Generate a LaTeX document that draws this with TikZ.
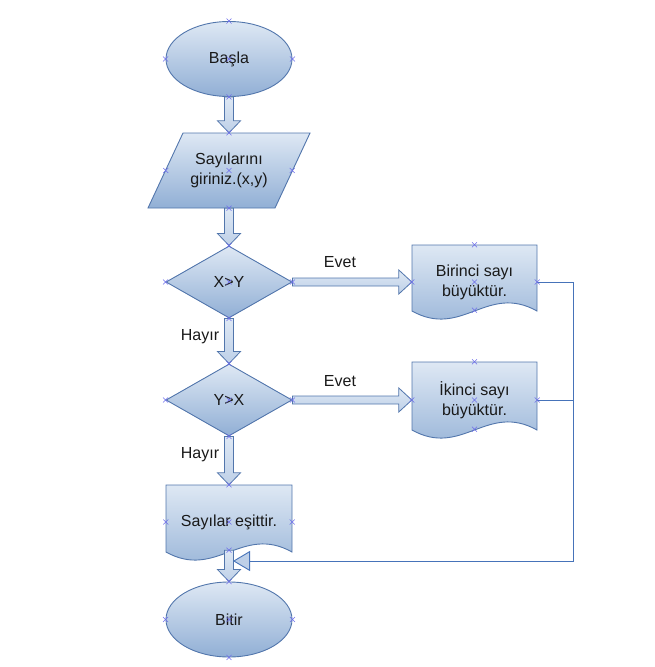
\documentclass[tikz,border=0pt]{standalone}
\usepackage{fontspec}
\setmainfont{Liberation Sans}
\usetikzlibrary{shapes.geometric,arrows.meta,calc}
\definecolor{fillTop}{RGB}{222,232,244}
\definecolor{fillBot}{RGB}{145,175,213}
\definecolor{edge}{RGB}{82,118,172}
\definecolor{conncol}{RGB}{70,115,185}
\definecolor{mkcol}{RGB}{110,110,235}
\definecolor{txt}{RGB}{25,25,25}
\definecolor{arrfill}{RGB}{190,208,232}
\tikzset{
  txtfont/.style={text=txt, font=\fontsize{16}{20}\selectfont, align=center},
  shapefill/.style={draw=edge, line width=0.9pt, top color=fillTop, bottom color=fillBot},
  term/.style={shapefill, txtfont, ellipse, minimum width=126pt, minimum height=75pt, inner sep=0pt},
  decision/.style={shapefill, txtfont, diamond, minimum width=126pt, minimum height=72pt, inner sep=0pt, aspect=1.75},
  holder/.style={txtfont, rectangle, inner sep=0pt},
  blockarrow/.style={draw=edge, line width=0.8pt, top color=fillTop, bottom color=arrfill},
  hblockarrow/.style={draw=edge, line width=0.8pt, top color=fillTop, bottom color=arrfill},
  lbl/.style={txtfont},
  conn/.style={draw=conncol, line width=0.9pt},
  xmk/.style={draw=mkcol, line width=0.6pt}
}
\newcommand\xm[1]{\draw[xmk] ($(#1)+(-2.5,-2.5)$) -- ($(#1)+(2.5,2.5)$) ($(#1)+(-2.5,2.5)$) -- ($(#1)+(2.5,-2.5)$);}
\newcommand\varr[2]{\path[blockarrow] ($(#1)+(-4.5,0)$) -- ($(#2)+(-4.5,-12)$) -- ($(#2)+(-11.5,-12)$) -- (#2) -- ($(#2)+(11.5,-12)$) -- ($(#2)+(4.5,-12)$) -- ($(#1)+(4.5,0)$) -- cycle;}
\newcommand\harr[2]{\path[hblockarrow] ($(#1)+(0,-4)$) -- ($(#2)+(-13,-4)$) -- ($(#2)+(-13,-12)$) -- (#2) -- ($(#2)+(-13,12)$) -- ($(#2)+(-13,4)$) -- ($(#1)+(0,4)$) -- cycle;}
\newcommand\docpath[4]{\path[shapefill] (#1,#2) -- (#3,#2) -- (#3,#4) .. controls ({#3-50},{#4-28}) and ({#1+50},{#4+28}) .. (#1,#4) -- cycle;}
\begin{document}
\begin{tikzpicture}[x=1pt,y=-1pt]
\useasboundingbox (0,0) rectangle (654,667);

% shapes
\node[term] (start) at (229,59) {Başla};
\path[shapefill] (183,133) -- (310,133) -- (275,208) -- (148,208) -- cycle;
\node[holder, minimum width=126pt, minimum height=75pt] (inp) at (229,170.5) {Sayılarını\\giriniz.(x,y)};
\node[decision] (d1) at (229,282) {X>Y};
\node[decision] (d2) at (229,400) {Y>X};
\docpath{412}{245}{537}{311}
\node[holder, minimum width=125pt, minimum height=74pt] (doc1) at (474.5,282) {Birinci sayı\\büyüktür.};
\docpath{412}{362}{537}{430}
\node[holder, minimum width=125pt, minimum height=76pt] (doc2) at (474.5,400) {İkinci sayı\\büyüktür.};
\docpath{166}{485}{292}{552}
\node[holder, minimum width=126pt, minimum height=74pt] (doc3) at (229,522) {Sayılar eşittir.};
\node[term] (stop) at (229,619.5) {Bitir};

% block arrows
\varr{start.south}{inp.north}
\varr{inp.south}{d1.north}
\varr{d1.south}{d2.north}
\varr{d2.south}{doc3.north}
\coordinate (doc3out) at ($(doc3.south)+(0,-9)$);
\varr{doc3out}{stop.north}
\harr{d1.east}{doc1.west}
\harr{d2.east}{doc2.west}

% labels
\node[lbl] (e1) at (340,262) {Evet};
\node[lbl] (e2) at (340,381) {Evet};
\node[lbl] (h1) at (200,337) {Hayır};
\node[lbl] (h2) at (200,455) {Hayır};

% return connector
\coordinate (corner) at (573,561);
\coordinate (tipc) at (233,561);
\draw[conn, -{Triangle[length=17pt,width=20pt,fill=arrfill]}] (doc1.east) -| (corner) -- (tipc);
\draw[conn] (doc2.east) -- (doc2.east -| corner);

% connection markers
\foreach \n in {start,d1,d2,stop}{
  \xm{\n.north}\xm{\n.south}\xm{\n.east}\xm{\n.west}\xm{\n.center}
}
\xm{inp.north}\xm{inp.south}\xm{inp.east}\xm{inp.west}\xm{inp.center}
\foreach \n in {doc1,doc2,doc3}{
  \xm{\n.north}\xm{\n.east}\xm{\n.west}\xm{\n.center}
}
\coordinate (b1) at ($(doc1.south)+(0,-9)$);
\coordinate (b2) at ($(doc2.south)+(0,-9)$);
\xm{b1}\xm{b2}\xm{doc3out}
\end{tikzpicture}
\end{document}
